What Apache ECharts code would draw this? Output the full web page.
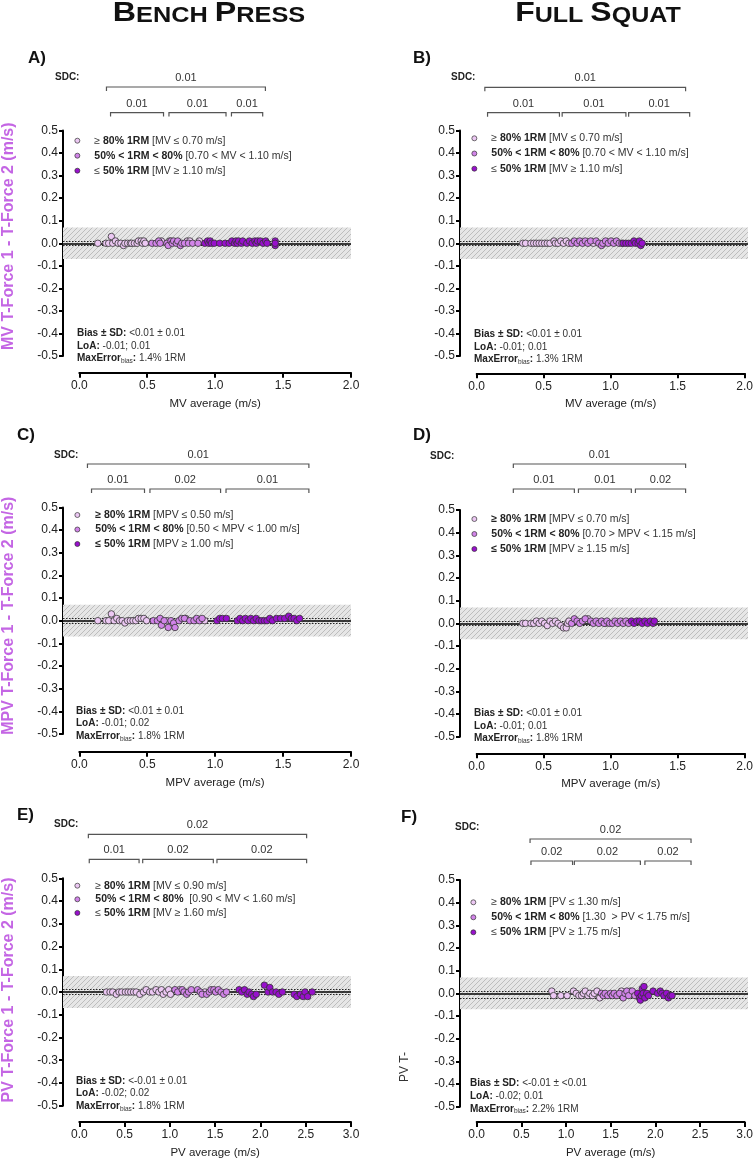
<!DOCTYPE html>
<html><head><meta charset="utf-8">
<script src="https://cdn.jsdelivr.net/npm/echarts@6/dist/echarts.min.js"></script>
<style>html,body{margin:0;padding:0;background:#fff}#c{width:756px;height:1160px}</style>
</head><body><div id="c"></div>
<script>
// ---------------- DATA ----------------
const A_light = [[0.13,0],[0.19,0],[0.21,0],[0.23,0.03],[0.24,0],[0.26,0.01],[0.28,0],[0.30,0],[0.32,-0.01],[0.33,0],[0.35,0],[0.37,0],[0.38,0],[0.40,0],[0.42,0],[0.43,0.01],[0.45,0.01],[0.46,0],[0.47,0.01],[0.48,0],[0.60,0.01],[0.66,0.01],[0.79,0.01],[0.81,0.01],[0.88,0.01]];
const A_medium = [[0.53,0],[0.56,0],[0.58,0.01],[0.59,0],[0.64,0],[0.65,-0.01],[0.67,0.01],[0.68,0],[0.69,0.01],[0.71,0],[0.72,0.01],[0.74,-0.01],[0.75,0],[0.77,0],[0.80,0],[0.83,0],[0.87,0]];
const A_dark = [[0.92,0],[0.94,0.01],[0.95,0],[0.96,0.01],[0.97,0],[0.99,0],[1.03,0],[1.07,0],[1.10,0],[1.12,0.01],[1.14,0],[1.15,0.01],[1.16,0],[1.17,0.01],[1.19,0],[1.20,0.01],[1.23,0],[1.25,0.01],[1.27,0],[1.29,0.01],[1.30,0],[1.31,0.01],[1.33,0.01],[1.35,0],[1.37,0.01],[1.38,0],[1.44,0.01],[1.44,-0.01],[1.44,0]];

const B_light = [[0.34,0],[0.36,0],[0.40,0],[0.42,0],[0.44,0],[0.46,0],[0.48,0],[0.50,0],[0.52,0],[0.54,0],[0.57,0.01],[0.58,0],[0.60,0],[0.62,0.01],[0.64,0],[0.66,0.01],[0.68,0],[0.86,0],[0.94,0]];
const B_medium = [[0.70,0],[0.72,0.01],[0.74,0],[0.76,0.01],[0.78,0],[0.80,0.01],[0.82,0],[0.84,0.01],[0.88,0.01],[0.90,0],[0.92,-0.01],[0.93,0],[0.95,0.01],[0.97,0],[0.99,0.01],[1.01,0],[1.03,0.01],[1.05,0],[1.07,0]];
const B_dark = [[1.08,0],[1.10,0],[1.12,0],[1.14,0],[1.16,0.01],[1.17,0],[1.19,0],[1.20,0.01],[1.21,-0.01],[1.22,0]];

const C_light = [[0.13,0],[0.19,0],[0.21,0],[0.23,0.03],[0.25,0],[0.27,0.01],[0.29,0],[0.31,0],[0.33,-0.01],[0.35,0],[0.37,0],[0.39,0],[0.41,0],[0.43,0.01],[0.45,0.01],[0.47,0.01],[0.49,0],[0.64,0],[0.78,0.01],[0.92,0]];
const C_medium = [[0.54,0],[0.57,0],[0.59,0.01],[0.60,-0.02],[0.62,0],[0.65,-0.03],[0.67,0],[0.69,-0.01],[0.70,-0.03],[0.73,0],[0.75,0.01],[0.77,0.01],[0.81,0],[0.84,0],[0.86,0.01],[0.88,0],[0.90,0.01]];
const C_dark = [[1.01,0],[1.03,0.01],[1.05,0.01],[1.08,0.01],[1.16,0],[1.18,0.01],[1.20,0],[1.22,0.01],[1.24,0],[1.26,0.01],[1.28,0],[1.30,0.01],[1.32,0],[1.34,0],[1.36,0],[1.38,0],[1.40,0.01],[1.42,0],[1.45,0.01],[1.48,0.01],[1.51,0.01],[1.54,0.02],[1.56,0.01],[1.58,0.01],[1.60,0],[1.62,0.01]];

const D_light = [[0.34,0],[0.36,0],[0.40,0],[0.42,0],[0.44,0.01],[0.46,0],[0.48,0.01],[0.50,0],[0.52,-0.01],[0.54,0.01],[0.56,0],[0.58,0.01],[0.60,0],[0.62,-0.01],[0.64,-0.02],[0.66,-0.02],[0.67,0],[0.68,0.01],[0.82,0.02],[0.95,0]];
const D_medium = [[0.70,0],[0.72,0.02],[0.74,0.01],[0.76,0],[0.78,0.01],[0.80,0.02],[0.84,0.01],[0.86,0],[0.88,0.01],[0.90,0],[0.92,0.01],[0.94,0],[0.96,0.01],[0.98,0],[1.00,0],[1.02,0.01],[1.04,0],[1.06,0.01],[1.08,0],[1.10,0.01],[1.12,0]];
const D_dark = [[1.14,0.01],[1.16,0],[1.18,0.01],[1.20,0.01],[1.22,0],[1.24,0.01],[1.26,0],[1.28,0.01],[1.30,0],[1.31,0.01]];

const E_light = [[0.29,0],[0.33,0],[0.36,0],[0.40,-0.01],[0.43,0],[0.46,0],[0.50,0],[0.53,0],[0.56,0],[0.59,0],[0.62,0],[0.66,-0.01],[0.70,0],[0.73,0.01],[0.77,0],[0.80,0],[0.84,0.01],[0.87,0],[0.90,0.01],[0.92,-0.01],[0.95,0],[0.98,0.01],[1.00,-0.01],[1.10,0.01],[1.38,0]];
const E_medium = [[1.05,0.01],[1.08,0],[1.13,0.01],[1.15,0],[1.18,-0.01],[1.20,0],[1.23,0.01],[1.30,0.01],[1.33,0],[1.35,-0.01],[1.40,-0.01],[1.43,0],[1.45,0.01],[1.48,0.01],[1.50,0],[1.53,0.01],[1.56,0],[1.59,-0.01],[1.62,0]];
const E_dark = [[1.76,0.01],[1.79,0],[1.82,0.01],[1.85,-0.01],[1.87,0],[1.90,-0.01],[1.92,-0.02],[1.95,-0.01],[2.04,0.03],[2.08,0],[2.10,0.02],[2.13,0],[2.17,0],[2.20,-0.01],[2.24,0],[2.37,-0.01],[2.40,-0.02],[2.44,-0.01],[2.47,-0.02],[2.49,0],[2.52,-0.02],[2.57,0]];

const F_light = [[0.83,0.01],[0.85,-0.01],[0.93,-0.01],[1.00,-0.01],[1.07,0.01],[1.10,0],[1.13,-0.01],[1.16,-0.01],[1.18,0],[1.20,0.01],[1.23,-0.01],[1.25,0],[1.28,-0.01],[1.30,0],[1.33,0.01],[1.36,-0.02],[1.60,0.01],[1.70,0.01]];
const F_medium = [[1.38,0],[1.40,-0.01],[1.42,0],[1.45,-0.01],[1.48,0],[1.50,-0.01],[1.52,0],[1.55,-0.01],[1.58,0],[1.62,-0.02],[1.64,0],[1.66,0.01],[1.68,-0.01],[1.72,0.01],[1.75,-0.01]];
const F_dark = [[1.78,0],[1.80,-0.02],[1.81,-0.03],[1.82,-0.01],[1.83,0.02],[1.84,0],[1.85,0.03],[1.86,-0.02],[1.88,0],[1.90,-0.01],[1.95,0.01],[2.00,0],[2.03,0.01],[2.05,0],[2.07,-0.01],[2.10,0],[2.12,-0.02],[2.14,-0.01],[2.16,-0.01]];

// bias, lower LoA, upper LoA
const A_lines = [0, -0.01, 0.012];
const B_lines = [0, -0.01, 0.01];
const C_lines = [0, -0.01, 0.015];
const D_lines = [0, -0.01, 0.012];
const E_lines = [0, -0.015, 0.015];
const F_lines = [-0.004, -0.022, 0.012];
const BAND = [-0.07, 0.07];

// SDC brackets: [x start, x end, level (1 = top, 0 = sub)]
const A_sdc = [[0.20,1.37,1],[0.23,0.62,0],[0.66,1.08,0],[1.12,1.35,0]];
const B_sdc = [[0.06,1.54,1],[0.08,0.61,0],[0.63,1.10,0],[1.12,1.57,0]];
const C_sdc = [[0.06,1.69,1],[0.09,0.48,0],[0.52,1.04,0],[1.08,1.69,0]];
const D_sdc = [[0.27,1.54,1],[0.27,0.72,0],[0.75,1.14,0],[1.17,1.54,0]];
const E_sdc = [[0.10,2.51,1],[0.11,0.66,0],[0.70,1.48,0],[1.52,2.51,0]];
const F_sdc = [[0.59,2.37,1],[0.60,1.06,0],[1.08,1.81,0],[1.86,2.37,0]];
const A_sdcLabels = ['0.01','0.01','0.01','0.01'];
const B_sdcLabels = ['0.01','0.01','0.01','0.01'];
const C_sdcLabels = ['0.01','0.01','0.02','0.01'];
const D_sdcLabels = ['0.01','0.01','0.01','0.02'];
const E_sdcLabels = ['0.02','0.01','0.02','0.02'];
const F_sdcLabels = ['0.02','0.02','0.02','0.02'];

const A_legend = ['≥ {b|80% 1RM} [MV ≤ 0.70 m/s]','{b|50% < 1RM < 80%} [0.70 < MV < 1.10 m/s]','≤ {b|50% 1RM} [MV ≥ 1.10 m/s]'];
const B_legend = ['≥ {b|80% 1RM} [MV ≤ 0.70 m/s]','{b|50% < 1RM < 80%} [0.70 < MV < 1.10 m/s]','≤ {b|50% 1RM} [MV ≥ 1.10 m/s]'];
const C_legend = ['{b|≥ 80% 1RM} [MPV ≤ 0.50 m/s]','{b|50% < 1RM < 80%} [0.50 < MPV < 1.00 m/s]','{b|≤ 50% 1RM} [MPV ≥ 1.00 m/s]'];
const D_legend = ['{b|≥ 80% 1RM} [MPV ≤ 0.70 m/s]','{b|50% < 1RM < 80%} [0.70 > MPV < 1.15 m/s]','{b|≤ 50% 1RM} [MPV ≥ 1.15 m/s]'];
const E_legend = ['≥ {b|80% 1RM} [MV ≤ 0.90 m/s]','{b|50% < 1RM < 80%}  [0.90 < MV < 1.60 m/s]','≤ {b|50% 1RM} [MV ≥ 1.60 m/s]'];
const F_legend = ['≥ {b|80% 1RM} [PV ≤ 1.30 m/s]','{b|50% < 1RM < 80%} [1.30  > PV < 1.75 m/s]','≤ {b|50% 1RM} [PV ≥ 1.75 m/s]'];

const A_stats = ['<0.01 ± 0.01','-0.01; 0.01','1.4% 1RM'];
const B_stats = ['<0.01 ± 0.01','-0.01; 0.01','1.3% 1RM'];
const C_stats = ['<0.01 ± 0.01','-0.01; 0.02','1.8% 1RM'];
const D_stats = ['<0.01 ± 0.01','-0.01; 0.01','1.8% 1RM'];
const E_stats = ['<-0.01 ± 0.01','-0.02; 0.02','1.8% 1RM'];
const F_stats = ['<-0.01 ± <0.01','-0.02; 0.01','2.2% 1RM'];

const X_MAX = [2, 2, 2, 2, 3, 3];
const X_TITLES = ['MV average (m/s)','MV average (m/s)','MPV average (m/s)','MPV average (m/s)','PV average (m/s)','PV average (m/s)'];
const Y_TITLES = ['MV T-Force 1 - T-Force 2 (m/s)','','MPV T-Force 1 - T-Force 2 (m/s)','','PV T-Force 1 - T-Force 2 (m/s)',''];
const PANEL_LETTERS = ['A)','B)','C)','D)','E)','F)'];

// ---------------- LAYOUT ----------------
// mx: legend marker centre x, tx: legend text start x, ns: y-title upward shift
const GEO = [
  {yx:62,  x0:79.3,  xe:351, yt:130.5, yb:356,    xa:372.7,  bt:87,    bs:112.6, mx:77,  tx:94,  ly:134.7, lg:3,   sx:77,  sy:326.7, px:28,  py:58,  dx:55,  dy:77,  ns:7},
  {yx:460, x0:476.7, xe:748, yt:130.5, yb:356,    xa:373.3,  bt:87.3,  bs:112.7, mx:474, tx:491, ly:132.3, lg:3.2, sx:474, sy:327.7, px:413, py:58,  dx:451, dy:77,  ns:0},
  {yx:62,  x0:79.3,  xe:351, yt:507.4, yb:734,    xa:751.7,  bt:464,   bs:489,   mx:77,  tx:95,  ly:509,   lg:2.5, sx:76,  sy:704.4, px:17,  py:435, dx:54,  dy:455, ns:5},
  {yx:460, x0:476.7, xe:748, yt:510,   yb:736.7,  xa:753.3,  bt:464,   bs:489,   mx:474, tx:491, ly:513,   lg:3,   sx:474, sy:706.7, px:413, py:435, dx:430, dy:456, ns:0},
  {yx:62,  x0:79.3,  xe:351, yt:878.3, yb:1105.7, xa:1122.7, bt:834.3, bs:859.3, mx:77,  tx:95,  ly:879.7, lg:1.6, sx:76,  sy:1074.4,px:17,  py:815, dx:54,  dy:824, ns:2},
  {yx:460, x0:476.7, xe:748, yt:880,   yb:1106.7, xa:1123.3, bt:839,   bs:861,   mx:473, tx:491, ly:896.3, lg:3,   sx:470, sy:1077,  px:401, py:817, dx:455, dy:827, ns:0}
];

const FONT = '"Liberation Sans", Arial, Helvetica, sans-serif';
const COLORS = ['#ecc8f3', '#d184e8', '#9810cc'];
const W = 756, H = 1160;

const PTS = [[A_light,A_medium,A_dark],[B_light,B_medium,B_dark],[C_light,C_medium,C_dark],[D_light,D_medium,D_dark],[E_light,E_medium,E_dark],[F_light,F_medium,F_dark]];
const LINES = [A_lines,B_lines,C_lines,D_lines,E_lines,F_lines];
const SDC = [A_sdc,B_sdc,C_sdc,D_sdc,E_sdc,F_sdc];
const SDCL = [A_sdcLabels,B_sdcLabels,C_sdcLabels,D_sdcLabels,E_sdcLabels,F_sdcLabels];
const LEG = [A_legend,B_legend,C_legend,D_legend,E_legend,F_legend];
const STATS = [A_stats,B_stats,C_stats,D_stats,E_stats,F_stats];

// hatch pattern for the SDC band
const pc = document.createElement('canvas');
pc.width = 5; pc.height = 5;
const pctx = pc.getContext('2d');
pctx.fillStyle = '#e6e6e6'; pctx.fillRect(0,0,5,5);
pctx.strokeStyle = '#bdbdbd'; pctx.lineWidth = 1;
pctx.beginPath(); pctx.moveTo(-1,6); pctx.lineTo(6,-1); pctx.stroke();
pctx.beginPath(); pctx.moveTo(-1,1); pctx.lineTo(1,-1); pctx.stroke();
pctx.beginPath(); pctx.moveTo(4,6); pctx.lineTo(6,4); pctx.stroke();
const HATCH = {image: pc, repeat: 'repeat'};

const grids = [], xAxes = [], yAxes = [], series = [], legends = [], graphics = [];
const fmt1 = v => (Math.abs(v) < 1e-9 ? '0.0' : v.toFixed(1));
const ICON = 5;

GEO.forEach((g, p) => {
  const xMax = X_MAX[p];
  const xMin = -(g.x0 - g.yx) / (g.xe - g.x0) * xMax;
  const gi = p * 3;
  grids.push({left: g.yx, right: W - g.xe, top: g.yt, height: g.yb - g.yt});
  grids.push({left: g.x0, right: W - g.xe, top: g.xa - 10, height: 10});
  grids.push({left: g.yx, right: W - g.xe, top: g.bt, height: g.bs - g.bt});

  xAxes.push({gridIndex: gi, type: 'value', min: xMin, max: xMax, show: false});
  yAxes.push({gridIndex: gi, type: 'value', min: -0.5, max: 0.5, interval: 0.1,
    axisLine: {show: true, onZero: false, lineStyle: {color: '#000', width: 2}},
    axisTick: {show: true, length: 4, lineStyle: {color: '#000', width: 2}},
    splitLine: {show: false},
    axisLabel: {fontSize: 12, color: '#222', margin: 5, fontFamily: FONT, formatter: fmt1},
    name: Y_TITLES[p], nameLocation: 'middle', nameRotate: 90, nameGap: 46,
    nameTextStyle: {fontSize: 16, fontWeight: 'bold', color: '#c466e4', fontFamily: FONT,
      padding: [0, 0, 0, 2 * g.ns]}
  });

  xAxes.push({gridIndex: gi + 1, type: 'value', min: 0, max: xMax, interval: 0.5, position: 'bottom',
    axisLine: {show: true, onZero: false, lineStyle: {color: '#000', width: 2}},
    axisTick: {show: true, length: 5, lineStyle: {color: '#000', width: 2}},
    splitLine: {show: false},
    axisLabel: {fontSize: 12, color: '#222', margin: 7, fontFamily: FONT, formatter: fmt1},
    name: X_TITLES[p], nameLocation: 'middle', nameGap: 25,
    nameTextStyle: {fontSize: 11.5, color: '#222', fontFamily: FONT}
  });
  yAxes.push({gridIndex: gi + 1, type: 'value', min: 0, max: 1, show: false});

  xAxes.push({gridIndex: gi + 2, type: 'value', min: xMin, max: xMax, show: false});
  yAxes.push({gridIndex: gi + 2, type: 'value', min: 0, max: 1, show: false});

  const ln = LINES[p];
  series.push({type: 'line', xAxisIndex: gi, yAxisIndex: gi, data: [], z: 1, silent: true,
    markArea: {silent: true, itemStyle: {color: HATCH}, data: [[{yAxis: BAND[0]}, {yAxis: BAND[1]}]]},
    markLine: {silent: true, symbol: 'none', label: {show: false},
      data: [
        {yAxis: ln[0], lineStyle: {color: '#000', width: 1.5, type: 'solid'}},
        {yAxis: ln[1], lineStyle: {color: '#222', width: 1, type: [1.5, 1.5]}},
        {yAxis: ln[2], lineStyle: {color: '#222', width: 1, type: [1.5, 1.5]}}
      ]}
  });
  const names = [];
  PTS[p].forEach((arr, k) => {
    const nm = 'P' + p + '_' + k;
    names.push(nm);
    series.push({type: 'scatter', name: nm, xAxisIndex: gi, yAxisIndex: gi, data: arr, z: 5,
      symbol: 'circle', symbolSize: 6.5,
      itemStyle: {color: COLORS[k], borderColor: '#333', borderWidth: 0.8, opacity: 1}});
  });
  const legTexts = LEG[p];
  const lLeft = g.mx - ICON / 2;
  legends.push({data: names, orient: 'vertical', left: lLeft, top: g.ly, padding: 0,
    itemWidth: ICON, itemHeight: ICON, itemGap: g.lg, icon: 'circle', selectedMode: false,
    itemStyle: {borderColor: '#333', borderWidth: 0.7},
    formatter: n => legTexts[names.indexOf(n)],
    textStyle: {fontSize: 10.5, color: '#333', fontFamily: FONT, lineHeight: 12,
      padding: [0, 0, 0, Math.max(0, g.tx - (lLeft + ICON + 5))],
      rich: {b: {fontSize: 10.5, fontWeight: 'bold', color: '#222', fontFamily: FONT, lineHeight: 12}}}
  });

  const labels = SDCL[p];
  series.push({type: 'custom', xAxisIndex: gi + 2, yAxisIndex: gi + 2, data: SDC[p], silent: true,
    renderItem: (params, api) => {
      const a = api.coord([api.value(0), api.value(2)]);
      const b = api.coord([api.value(1), api.value(2)]);
      return {type: 'group', children: [
        {type: 'polyline', shape: {points: [[a[0], a[1] + 4], [a[0], a[1]], [b[0], b[1]], [b[0], b[1] + 4]]},
          style: {stroke: '#555', lineWidth: 1.2, fill: null}},
        {type: 'text', style: {text: labels[params.dataIndex], x: (a[0] + b[0]) / 2, y: a[1] - 9,
          align: 'center', verticalAlign: 'middle', fontSize: 11, fill: '#333', fontFamily: FONT}}
      ]};
    }
  });

  graphics.push({type: 'text', x: g.px, y: g.py, style: {text: PANEL_LETTERS[p], fontSize: 17, fontWeight: 'bold',
    fill: '#111', fontFamily: FONT, verticalAlign: 'middle'}});
  graphics.push({type: 'text', x: g.dx, y: g.dy, style: {text: 'SDC:', fontSize: 10, fontWeight: 'bold',
    fill: '#222', fontFamily: FONT, verticalAlign: 'middle'}});
  const st = STATS[p];
  graphics.push({type: 'text', x: g.sx, y: g.sy, style: {
    text: '{b|Bias ± SD:} ' + st[0] + '\n{b|LoA:} ' + st[1] + '\n{b|MaxError}{s|bias}{b|:} ' + st[2],
    fontSize: 10, fill: '#333', fontFamily: FONT, lineHeight: 12.7, verticalAlign: 'top',
    rich: {b: {fontSize: 10, fontWeight: 'bold', fill: '#222', fontFamily: FONT, lineHeight: 12.7},
           s: {fontSize: 6.5, fill: '#333', fontFamily: FONT, lineHeight: 7, verticalAlign: 'bottom'}}
  }});
});

graphics.push({type: 'text', x: 209, y: 13, scaleX: 1.15, style: {
  text: '{L|B}{S|ENCH} {L|P}{S|RESS}', align: 'center', verticalAlign: 'middle',
  fontSize: 22, fontWeight: 'bold', fill: '#111', fontFamily: FONT,
  rich: {L: {fontSize: 28, fontWeight: 'bold', fontFamily: FONT, lineHeight: 28, verticalAlign: 'bottom'},
         S: {fontSize: 22, fontWeight: 'bold', fontFamily: FONT, lineHeight: 22, verticalAlign: 'bottom'}}}});
graphics.push({type: 'text', x: 598, y: 13, scaleX: 1.14, style: {
  text: '{L|F}{S|ULL} {L|S}{S|QUAT}', align: 'center', verticalAlign: 'middle',
  fontSize: 22, fontWeight: 'bold', fill: '#111', fontFamily: FONT,
  rich: {L: {fontSize: 28, fontWeight: 'bold', fontFamily: FONT, lineHeight: 28, verticalAlign: 'bottom'},
         S: {fontSize: 22, fontWeight: 'bold', fontFamily: FONT, lineHeight: 22, verticalAlign: 'bottom'}}}});
graphics.push({type: 'text', x: 405, y: 1067, rotation: Math.PI / 2, style: {text: 'PV T-', align: 'center',
  verticalAlign: 'middle', fontSize: 12, fill: '#333', fontFamily: FONT}});

const chart = echarts.init(document.getElementById('c'), null, {renderer: 'canvas'});
chart.setOption({
  animation: false,
  backgroundColor: '#fff',
  grid: grids, xAxis: xAxes, yAxis: yAxes, series: series, legend: legends, graphic: graphics
});
</script></body></html>
